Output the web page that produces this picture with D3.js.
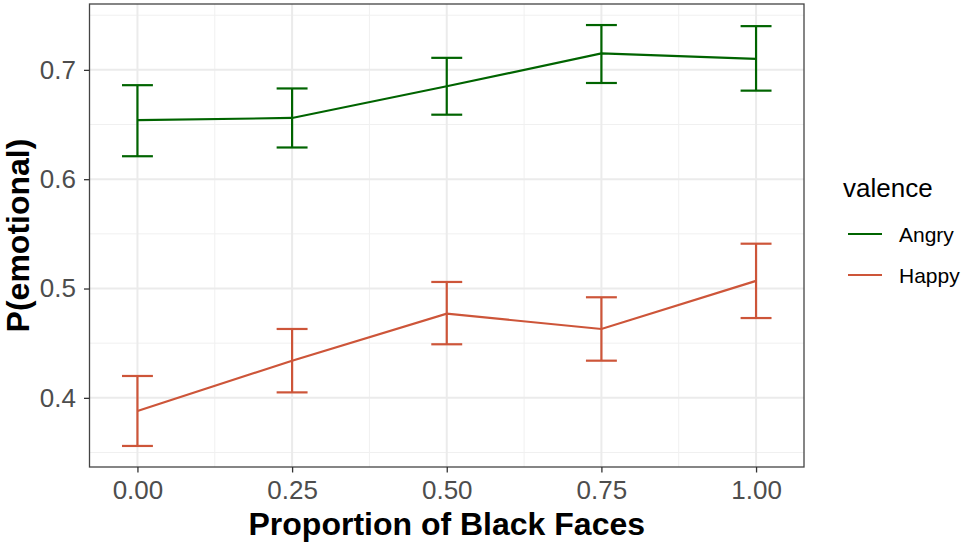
<!DOCTYPE html>
<html>
<head>
<meta charset="utf-8">
<script src="https://cdn.jsdelivr.net/npm/d3@7"></script>
<style>
  body { margin: 0; background: #fff; }
  svg { display: block; font-family: "Liberation Sans", Arial, sans-serif; }
</style>
</head>
<body>
<svg id="chart" width="962" height="548"></svg>
<script>
// ---- data ----
const proportions = [0, 0.25, 0.5, 0.75, 1];
const xTicks = [0, 0.25, 0.5, 0.75, 1];
const xTickLabels = ["0.00", "0.25", "0.50", "0.75", "1.00"];
const yTicks = [0.4, 0.5, 0.6, 0.7];
const yTickLabels = ["0.4", "0.5", "0.6", "0.7"];
const seriesNames = ["Angry", "Happy"];
const seriesColors = ["#006400", "#CD5539"];
const angryMean = [0.654, 0.656, 0.685, 0.715, 0.710];
const angryLow  = [0.621, 0.629, 0.659, 0.688, 0.681];
const angryHigh = [0.686, 0.683, 0.711, 0.741, 0.740];
const happyMean = [0.388, 0.434, 0.477, 0.463, 0.507];
const happyLow  = [0.356, 0.405, 0.449, 0.434, 0.473];
const happyHigh = [0.420, 0.463, 0.506, 0.492, 0.541];
const capHalfWidth = 0.025;

const series = [
  { name: seriesNames[0], color: seriesColors[0], mean: angryMean, low: angryLow, high: angryHigh },
  { name: seriesNames[1], color: seriesColors[1], mean: happyMean, low: happyLow, high: happyHigh }
];

// ---- layout ----
const panel = { left: 89.5, right: 804, top: 4, bottom: 467 };
const svg = d3.select("#chart");

const xMin = d3.min(proportions) - capHalfWidth, xMax = d3.max(proportions) + capHalfWidth;
const xPad = (xMax - xMin) * 0.05;
const yMin = d3.min(series, s => d3.min(s.low)), yMax = d3.max(series, s => d3.max(s.high));
const yPad = (yMax - yMin) * 0.05;

const x = d3.scaleLinear().domain([xMin - xPad, xMax + xPad]).range([panel.left, panel.right]);
const y = d3.scaleLinear().domain([yMin - yPad, yMax + yPad]).range([panel.bottom, panel.top]);

// grid
const g = svg.append("g");
const xMinor = [0.125, 0.375, 0.625, 0.875];
const yMinor = [0.35, 0.45, 0.55, 0.65, 0.75];
g.selectAll(".ymin").data(yMinor).join("line")
  .attr("x1", panel.left).attr("x2", panel.right)
  .attr("y1", d => y(d)).attr("y2", d => y(d))
  .attr("stroke", "#F0F0F0").attr("stroke-width", 1);
g.selectAll(".xmin").data(xMinor).join("line")
  .attr("y1", panel.top).attr("y2", panel.bottom)
  .attr("x1", d => x(d)).attr("x2", d => x(d))
  .attr("stroke", "#F0F0F0").attr("stroke-width", 1);
g.selectAll(".ymaj").data(yTicks).join("line")
  .attr("x1", panel.left).attr("x2", panel.right)
  .attr("y1", d => y(d)).attr("y2", d => y(d))
  .attr("stroke", "#EBEBEB").attr("stroke-width", 2);
g.selectAll(".xmaj").data(xTicks).join("line")
  .attr("y1", panel.top).attr("y2", panel.bottom)
  .attr("x1", d => x(d)).attr("x2", d => x(d))
  .attr("stroke", "#EBEBEB").attr("stroke-width", 2);

// series
const line = d3.line().x((d, i) => x(proportions[i])).y(d => y(d));
series.forEach(s => {
  const sg = svg.append("g");
  sg.append("path").datum(s.mean).attr("d", line)
    .attr("fill", "none").attr("stroke", s.color).attr("stroke-width", 2.2);
  proportions.forEach((p, i) => {
    sg.append("line").attr("x1", x(p)).attr("x2", x(p))
      .attr("y1", y(s.low[i])).attr("y2", y(s.high[i]))
      .attr("stroke", s.color).attr("stroke-width", 2.2);
    [s.low[i], s.high[i]].forEach(v => {
      sg.append("line").attr("x1", x(p - capHalfWidth)).attr("x2", x(p + capHalfWidth))
        .attr("y1", y(v)).attr("y2", y(v))
        .attr("stroke", s.color).attr("stroke-width", 2.2);
    });
  });
});

// panel border
svg.append("rect")
  .attr("x", panel.left).attr("y", panel.top)
  .attr("width", panel.right - panel.left).attr("height", panel.bottom - panel.top)
  .attr("fill", "none").attr("stroke", "#444").attr("stroke-width", 1.3);

// axes
const xAxis = d3.axisBottom(x).tickValues(xTicks).tickFormat((d, i) => xTickLabels[i])
  .tickSize(5.5).tickPadding(8);
const xa = svg.append("g").attr("transform", `translate(0,${panel.bottom})`).call(xAxis);
xa.select(".domain").remove();
xa.selectAll(".tick line").attr("stroke", "#333").attr("stroke-width", 1.3);
xa.selectAll(".tick text").attr("fill", "#4D4D4D").attr("font-size", 26)
  .attr("font-family", "Liberation Sans, Arial, sans-serif");

const yAxis = d3.axisLeft(y).tickValues(yTicks).tickFormat((d, i) => yTickLabels[i])
  .tickSize(5.5).tickPadding(8);
const ya = svg.append("g").attr("transform", `translate(${panel.left},0)`).call(yAxis);
ya.select(".domain").remove();
ya.selectAll(".tick line").attr("stroke", "#333").attr("stroke-width", 1.3);
ya.selectAll(".tick text").attr("fill", "#4D4D4D").attr("font-size", 26)
  .attr("font-family", "Liberation Sans, Arial, sans-serif");

// axis titles
svg.append("text")
  .attr("x", (panel.left + panel.right) / 2).attr("y", 535)
  .attr("text-anchor", "middle").attr("font-weight", "bold").attr("font-size", 32)
  .attr("fill", "#000").text("Proportion of Black Faces");
svg.append("text")
  .attr("transform", `translate(29,${(panel.top + panel.bottom) / 2}) rotate(-90)`)
  .attr("text-anchor", "middle")
  .attr("font-weight", "bold").attr("font-size", 32)
  .attr("fill", "#000").text("P(emotional)");

// legend
const lg = svg.append("g");
lg.append("text").attr("x", 843).attr("y", 197).attr("font-size", 26).attr("fill", "#000").text("valence");
series.forEach((s, i) => {
  const cy = 234 + i * 41;
  lg.append("line").attr("x1", 848).attr("x2", 882).attr("y1", cy).attr("y2", cy)
    .attr("stroke", s.color).attr("stroke-width", 2.2);
  lg.append("text").attr("x", 899).attr("y", cy + 7.5).attr("font-size", 21)
    .attr("fill", "#000").text(s.name);
});
</script>
</body>
</html>
